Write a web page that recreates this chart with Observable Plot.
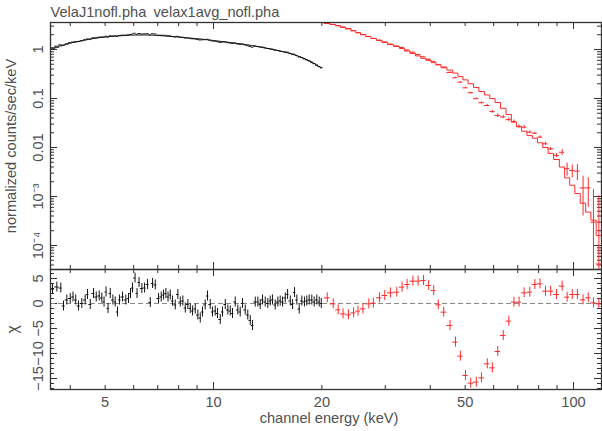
<!DOCTYPE html>
<html><head><meta charset="utf-8">
<script src="https://cdn.jsdelivr.net/npm/d3@7"></script>
<script src="https://cdn.jsdelivr.net/npm/@observablehq/plot@0.6"></script>
<style>
html,body{margin:0;padding:0;background:#fff;}
#wrap{position:relative;width:602px;height:431px;overflow:hidden;background:#fff;}
#wrap svg{position:absolute;left:0;overflow:visible;}
</style></head><body><div id="wrap"></div>
<script>
// ---- data ----
const blackE=[3.571,3.671,3.765,3.831,3.913,3.999,4.071,4.142,4.217,4.307,
4.401,4.467,4.545,4.642,4.723,4.814,4.895,4.965,5.029,5.093,
5.166,5.253,5.333,5.412,5.482,5.588,5.707,5.807,5.881,5.957,
6.053,6.131,6.211,6.323,6.433,6.558,6.672,6.771,6.889,7.035,
7.157,7.264,7.372,7.476,7.582,7.694,7.829,7.960,8.084,8.219,
8.347,8.487,8.619,8.746,8.898,9.047,9.187,9.320,9.482,9.623,
9.790,9.936,10.11,10.26,10.44,10.59,10.78,10.96,11.13,11.29,
11.49,11.68,11.86,12.04,12.25,12.45,12.65,12.83,13.06,13.28,
13.48,13.68,13.92,14.15,14.37,14.58,14.84,15.09,15.32,15.55,
15.82,16.06,16.34,16.58,16.79,17.04,17.30,17.59,17.89,18.16,
18.44,18.75,19.04,19.36,19.66,19.92];
const blackData=[1.084,1.170,1.245,1.219,1.303,1.374,1.419,1.441,1.451,1.509,
1.576,1.640,1.628,1.729,1.741,1.784,1.800,1.795,1.873,1.791,
1.901,1.883,1.892,1.843,1.927,1.962,1.959,1.983,2.026,2.074,
2.149,2.043,2.118,2.077,2.080,2.104,1.983,2.098,2.070,1.960,
1.952,1.951,1.946,1.907,1.904,1.849,1.806,1.851,1.789,1.776,
1.719,1.720,1.682,1.652,1.644,1.594,1.564,1.575,1.589,1.616,
1.549,1.493,1.475,1.445,1.395,1.412,1.426,1.380,1.358,1.327,
1.355,1.299,1.271,1.289,1.240,1.196,1.153,1.114,1.178,1.154,
1.124,1.116,1.081,1.050,1.035,1.016,0.974,0.957,0.935,0.909,
0.894,0.882,0.838,0.799,0.804,0.756,0.705,0.689,0.649,0.620,
0.591,0.555,0.517,0.484,0.450,0.424];
const blackModel=[1.033,1.109,1.184,1.230,1.288,1.351,1.389,1.425,1.463,1.509,
1.559,1.592,1.633,1.673,1.704,1.741,1.768,1.787,1.804,1.821,
1.840,1.862,1.883,1.896,1.905,1.920,1.937,1.951,1.961,1.971,
1.977,1.977,1.977,1.977,1.977,1.977,1.977,1.965,1.948,1.928,
1.912,1.898,1.883,1.867,1.851,1.835,1.816,1.798,1.781,1.762,
1.745,1.726,1.709,1.693,1.674,1.657,1.640,1.621,1.597,1.577,
1.554,1.535,1.512,1.493,1.471,1.452,1.431,1.411,1.392,1.372,
1.349,1.327,1.308,1.289,1.267,1.242,1.219,1.197,1.172,1.149,
1.127,1.104,1.076,1.050,1.027,1.005,0.980,0.952,0.928,0.905,
0.878,0.856,0.831,0.802,0.776,0.747,0.718,0.684,0.646,0.615,
0.585,0.549,0.514,0.479,0.448,0.424];
const blackChi=[2.9,3.3,3.1,-0.5,0.7,1.0,1.3,0.7,-0.5,0,
0.7,1.8,-0.2,2.0,1.3,1.5,1.1,0.3,2.3,-1.0,
2.0,0.7,0.3,-1.7,0.7,1.3,0.7,1.0,2.0,3.1,
5.1,2.0,4.2,3.0,3.1,3.8,0.2,4.0,3.7,1.0,
1.3,1.7,2.0,1.3,1.7,0.5,-0.3,1.8,0.3,0.5,
-0.9,-0.2,-1.0,-1.5,-1.1,-2.3,-2.9,-1.7,-0.3,1.5,
-0.2,-1.7,-1.5,-2.0,-3.2,-1.7,-0.2,-1.3,-1.5,-2.0,
0.3,-1.3,-1.7,0,-1.3,-2.3,-3.4,-4.4,0.3,0.3,
-0.2,0.7,0.3,0,0.5,0.7,-0.3,0.3,0.5,0.3,
1.1,1.8,0.5,-0.2,2.2,0.7,-1.1,0.5,0.3,0.5,
0.7,0.7,0.3,0.7,0.3,0];

const redE=[20.7,21.5,22.2,22.9,23.7,24.5,25.2,26.0,27.0,27.8,
28.9,29.9,31.0,32.3,33.4,34.5,35.8,37.0,38.3,39.6,
40.9,42.1,43.6,45.4,47.0,48.5,50.1,51.8,53.7,55.5,
57.6,59.5,61.6,63.8,66.1,68.3,70.6,72.9,75.6,78.1,
80.7,83.6,86.4,89.7,93.0,96.0,99.2,102.5,106.3,109.9,
113.6,117.6];
const redData=[3.43,3.24,3.05,2.82,2.62,2.40,2.19,2.00,1.84,1.68,
1.55,1.42,1.29,1.18,1.10,0.98,0.88,0.79,0.71,0.63,
0.565,0.487,0.425,0.34,0.264,0.215,0.165,0.131,0.099,0.082,
0.072,0.054,0.045,0.042,0.037,0.034,0.027,0.026,0.0206,0.0195,
0.0163,0.0119,0.0094,0.0069,0.0080,0.0037,0.0034,0.0033,0.0015,0.0015,
0.0003,0.000042];
const redModel=[3.39,3.24,3.09,2.88,2.68,2.44,2.22,2.02,1.84,1.68,
1.53,1.39,1.26,1.15,1.05,0.93,0.83,0.74,0.66,0.60,
0.54,0.49,0.44,0.38,0.33,0.28,0.24,0.20,0.168,0.139,
0.118,0.100,0.083,0.063,0.047,0.033,0.0265,0.0215,0.0175,0.0155,
0.0125,0.0100,0.0076,0.0057,0.0040,0.0024,0.0017,0.00115,0.00073,0.00048,
0.00033,0.00016];
const redErr=[0.035,0.033,0.032,0.030,0.028,0.026,0.024,0.022,0.021,0.020,
0.018,0.017,0.016,0.015,0.014,0.013,0.012,0.011,0.011,0.010,
0.0095,0.009,0.0088,0.0088,0.0085,0.0062,0.0052,0.0043,0.0044,0.0038,
0.0038,0.0036,0.0040,0.0033,0.0028,0.0025,0.0022,0.0021,0.0014,0.0011,
0.0010,0.0008,0.0007,0.00065,0.00115,0.0011,0.0010,0.0012,0.0011,0.0009,
0.0011,0.0010];
const redChi=[1.13,-0.07,-1.27,-2.07,-2.27,-1.87,-1.53,-1.07,-0.07,0.07,
1.13,1.6,2.13,2.27,3.27,3.8,4.47,4.47,4.6,3.6,
2.6,-0.27,-1.73,-4.4,-7.73,-10.53,-14.4,-15.93,-15.73,-14.87,
-12.07,-12.87,-9.6,-6.4,-3.53,0.27,0.27,2.13,2.27,3.8,
3.93,2.47,2.47,1.8,3.47,1.27,1.8,1.8,0.73,1.13,
0.13,-0.07];

const xTickValues=[5,10,20,50,100];
const topTickValues=[1,0.1,0.01,1e-3,1e-4];
const topTickText=["1","0.1","0.01","10\u207B\u00B3","10\u207B\u2074"];
const resTickValues=[5,0,-5,-10,-15];
const titleText="VelaJ1nofl.pha\u2002velax1avg_nofl.pha";
const xLabel="channel energy (keV)";
const yLabelTop="normalized counts/sec/keV";
const yLabelRes="\u03C7";

// ---- layout ----
const W=602, ML=50, MR=1;
const xDomain=[3.525,119.6];
const FONT='"Liberation Sans", Arial, sans-serif';
const FS=14.6;
const TXT="#505050", AX="#333";
const BLK="#151515", RED="#ff2a2a";

function binEdges(E){
  return E.map((e,i)=>{
    const p=i>0?E[i-1]:e*e/E[i+1];
    const n=i<E.length-1?E[i+1]:e*e/E[i-1];
    return [Math.sqrt(p*e),Math.sqrt(e*n)];
  });
}
const bEd=binEdges(blackE), rEd=binEdges(redE);
const black=blackE.map((e,i)=>({e,lo:bEd[i][0],hi:bEd[i][1],d:blackData[i],m:blackModel[i],chi:blackChi[i]}));
const red=redE.map((e,i)=>({e,lo:rEd[i][0],hi:rEd[i][1],d:redData[i],m:redModel[i],err:redErr[i],chi:redChi[i]}));
const steps=rows=>rows.flatMap(r=>[{x:r.lo,y:r.m},{x:r.hi,y:r.m}]);

const xMajor=[10,100];
const xMinor=[4,5,6,7,8,9,20,30,40,50,60,70,80,90];
const FW=W-ML-MR;

function xTickMarks(H){
  const out=[];
  for(const [vals,len] of [[xMajor,7],[xMinor,4]]){
    out.push(Plot.tickX(vals,{x:d=>d,insetBottom:H-len,stroke:AX,strokeWidth:1}));
    out.push(Plot.tickX(vals,{x:d=>d,insetTop:H-len,stroke:AX,strokeWidth:1}));
  }
  return out;
}
function yTickMarks(major,minor){
  const out=[];
  for(const [vals,len] of [[major,7],[minor,4]]){
    out.push(Plot.tickY(vals,{y:d=>d,insetRight:FW-len,stroke:AX,strokeWidth:1}));
    out.push(Plot.tickY(vals,{y:d=>d,insetLeft:FW-len,stroke:AX,strokeWidth:1}));
  }
  return out;
}

// top panel
const topDomain=[3.24e-5,3.556];
const topMinor=[];
for(let n=-5;n<=0;n++) for(let k=2;k<=9;k++){const v=k*Math.pow(10,n); if(v>topDomain[0]&&v<topDomain[1]) topMinor.push(v);}
const H1=247;
const topChart=Plot.plot({
  width:W,height:280,marginTop:22,marginBottom:11,marginLeft:ML,marginRight:MR,
  x:{type:"log",domain:xDomain,axis:null},
  y:{type:"log",domain:topDomain,axis:null},
  style:{background:"none",fontFamily:FONT,fontSize:FS+"px",color:TXT,overflow:"visible"},
  marks:[
    ...xTickMarks(H1),
    ...yTickMarks(topTickValues,topMinor),
    Plot.line(steps(black),{x:"x",y:"y",stroke:BLK,strokeWidth:1,clip:true}),
    Plot.ruleY(black,{y:"d",x1:"lo",x2:"hi",stroke:BLK,strokeWidth:1,clip:true}),
    Plot.line(steps(red),{x:"x",y:"y",stroke:RED,strokeWidth:1,clip:true}),
    Plot.ruleY(red,{y:"d",x1:"lo",x2:"hi",stroke:RED,strokeWidth:1,clip:true}),
    Plot.ruleX(red,{x:"e",y1:d=>Math.max(d.d-d.err,1e-8),y2:d=>d.d+d.err,stroke:RED,strokeWidth:1,clip:true}),
    Plot.frame({stroke:AX,strokeWidth:1.3}),
    Plot.text(topTickValues,{y:d=>d,text:(d,i)=>topTickText[i],frameAnchor:"left",dx:-12,rotate:-90,textAnchor:"middle",lineAnchor:"middle",fill:TXT,fontSize:FS}),
    Plot.text([yLabelTop],{frameAnchor:"left",dx:-39,rotate:-90,textAnchor:"middle",lineAnchor:"middle",fill:TXT,fontSize:FS}),
    Plot.text([titleText],{frameAnchor:"top-left",dy:-10,textAnchor:"start",lineAnchor:"middle",fill:TXT,fontSize:FS})
  ]
});

// residual panel
const resDomain=[-17.2,6.8];
const resMinor=[];
for(let v=-17;v<=6;v++) if(v%5!==0) resMinor.push(v);
const H2=120;
const resChart=Plot.plot({
  width:W,height:172,marginTop:10,marginBottom:42,marginLeft:ML,marginRight:MR,
  x:{type:"log",domain:xDomain,axis:null},
  y:{domain:resDomain,axis:null},
  style:{background:"none",fontFamily:FONT,fontSize:FS+"px",color:TXT,overflow:"visible"},
  marks:[
    ...xTickMarks(H2),
    ...yTickMarks(resTickValues,resMinor),
    Plot.ruleY([0],{stroke:"#8a8a8a",strokeWidth:1,strokeDasharray:"5,3"}),
    Plot.ruleY(black,{y:"chi",x1:"lo",x2:"hi",stroke:BLK,strokeWidth:1,clip:true}),
    Plot.ruleX(black,{x:"e",y1:d=>d.chi-1,y2:d=>d.chi+1,stroke:BLK,strokeWidth:1,clip:true}),
    Plot.ruleY(red,{y:"chi",x1:"lo",x2:"hi",stroke:RED,strokeWidth:1,clip:true}),
    Plot.ruleX(red,{x:"e",y1:d=>d.chi-1,y2:d=>d.chi+1,stroke:RED,strokeWidth:1,clip:true}),
    Plot.frame({stroke:AX,strokeWidth:1.3}),
    Plot.text(resTickValues,{y:d=>d,text:d=>(d<0?"\u2212"+(-d):String(d)),frameAnchor:"left",dx:-12,rotate:-90,textAnchor:"middle",lineAnchor:"middle",fill:TXT,fontSize:FS}),
    Plot.text([yLabelRes],{frameAnchor:"left",dx:-38,rotate:-90,textAnchor:"middle",lineAnchor:"middle",fill:TXT,fontSize:FS+1}),
    Plot.text(xTickValues,{x:d=>d,text:d=>String(d),frameAnchor:"bottom",dy:13,textAnchor:"middle",lineAnchor:"middle",fill:TXT,fontSize:FS}),
    Plot.text([xLabel],{frameAnchor:"bottom",dx:3,dy:29,textAnchor:"middle",lineAnchor:"middle",fill:TXT,fontSize:FS})
  ]
});

const wrap=document.getElementById("wrap");
topChart.style.top="0px"; resChart.style.top="259px";
wrap.appendChild(topChart); wrap.appendChild(resChart);
</script></body></html>
